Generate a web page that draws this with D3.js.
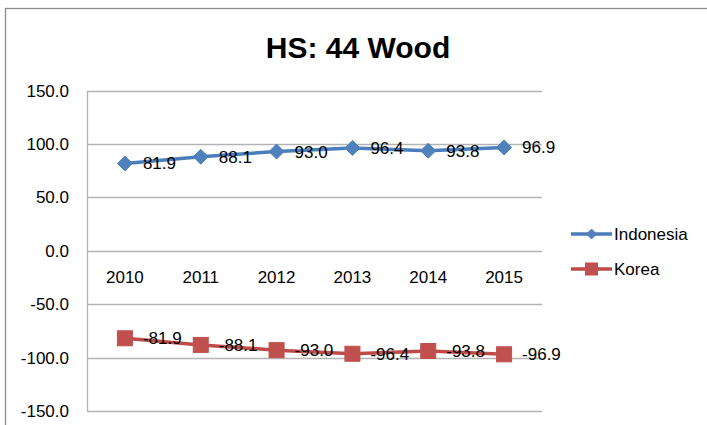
<!DOCTYPE html>
<html><head><meta charset="utf-8">
<script src="https://cdn.jsdelivr.net/npm/d3@7"></script>
<style>
html,body{margin:0;padding:0;background:#fff;}
text{font-family:"Liberation Sans",Arial,sans-serif;fill:#000;}
</style></head>
<body>
<svg id="chart" width="707" height="425"></svg>
<script>
const years = ["2010","2011","2012","2013","2014","2015"];
const indonesia = [81.9, 88.1, 93.0, 96.4, 93.8, 96.9];
const korea = [-81.9, -88.1, -93.0, -96.4, -93.8, -96.9];
const yTicks = [150, 100, 50, 0, -50, -100, -150];
const seriesNames = ["Indonesia", "Korea"];
const title = "HS: 44 Wood";

const fmt = d => d.toFixed(1);

const svg = d3.select("#chart");
const m = {left: 87, right: 542, top: 90.7, bottom: 411};

// outer border
svg.append("rect").attr("x", 5.5).attr("y", 8.5).attr("width", 760).attr("height", 460)
  .attr("fill", "#fff").attr("stroke", "#8c8c8c").attr("stroke-width", 1.3);

const x = d3.scaleBand().domain(years).range([m.left, m.right]);
const y = d3.scaleLinear().domain([-150, 150]).range([m.bottom, m.top]);

// gridlines
svg.append("g").selectAll("line").data(yTicks).join("line")
  .attr("x1", m.left).attr("x2", m.right)
  .attr("y1", d => Math.round(y(d)) + 0.5).attr("y2", d => Math.round(y(d)) + 0.5)
  .attr("stroke", "#b3b3b3").attr("stroke-width", 1.3);

// y axis line
svg.append("line").attr("x1", m.left + 0.5).attr("x2", m.left + 0.5)
  .attr("y1", m.top).attr("y2", m.bottom)
  .attr("stroke", "#b3b3b3").attr("stroke-width", 1.3);

// y tick labels
svg.append("g").selectAll("text").data(yTicks).join("text")
  .attr("x", 69).attr("y", d => y(d)).attr("dy", "0.35em")
  .attr("text-anchor", "end").attr("font-size", 17)
  .text(fmt);

// x labels at zero line
svg.append("g").selectAll("text").data(years).join("text")
  .attr("x", d => x(d) + x.bandwidth() / 2).attr("y", y(0) + 26.5)
  .attr("dy", "0.35em").attr("text-anchor", "middle").attr("font-size", 17)
  .text(d => d);

// title
svg.append("text").attr("x", 358).attr("y", 58).attr("text-anchor", "middle")
  .attr("font-size", 30).attr("font-weight", "bold").text(title);

const series = [
  {name: seriesNames[0], values: indonesia, line: "#4a7ebb", fill: "#4f81bd", shape: "diamond"},
  {name: seriesNames[1], values: korea, line: "#be4b48", fill: "#c0504d", shape: "square"}
];

const cx = (i) => x(years[i]) + x.bandwidth() / 2;
const lineGen = d3.line().x((d, i) => cx(i)).y(d => y(d));

function marker(g, shape, px, py, s) {
  if (shape === "diamond") {
    g.append("path").attr("d", `M${px},${py - s}L${px + s},${py}L${px},${py + s}L${px - s},${py}Z`);
  } else {
    g.append("rect").attr("x", px - s).attr("y", py - s).attr("width", 2 * s).attr("height", 2 * s);
  }
}

series.forEach((s, k) => {
  svg.append("path").datum(s.values).attr("d", lineGen)
    .attr("fill", "none").attr("stroke", s.line).attr("stroke-width", 3.5)
    .attr("stroke-linejoin", "round");
  const g = svg.append("g").attr("fill", s.fill).attr("stroke", s.fill);
  s.values.forEach((v, i) => marker(g, s.shape, cx(i), y(v), 7.5));
  svg.append("g").selectAll("text").data(s.values).join("text")
    .attr("x", (d, i) => cx(i) + 18).attr("y", d => y(d)).attr("dy", "0.35em")
    .attr("font-size", 17).text(fmt);

  // legend
  const ly = k === 0 ? 234 : 269;
  svg.append("line").attr("x1", 571).attr("x2", 612).attr("y1", ly).attr("y2", ly)
    .attr("stroke", s.line).attr("stroke-width", 3.5);
  const lg = svg.append("g").attr("fill", s.fill).attr("stroke", s.fill);
  marker(lg, s.shape, 591.5, ly, s.shape === "diamond" ? 5 : 6);
  svg.append("text").attr("x", 614).attr("y", ly).attr("dy", "0.35em")
    .attr("font-size", 17).text(s.name);
});
</script>
</body></html>
